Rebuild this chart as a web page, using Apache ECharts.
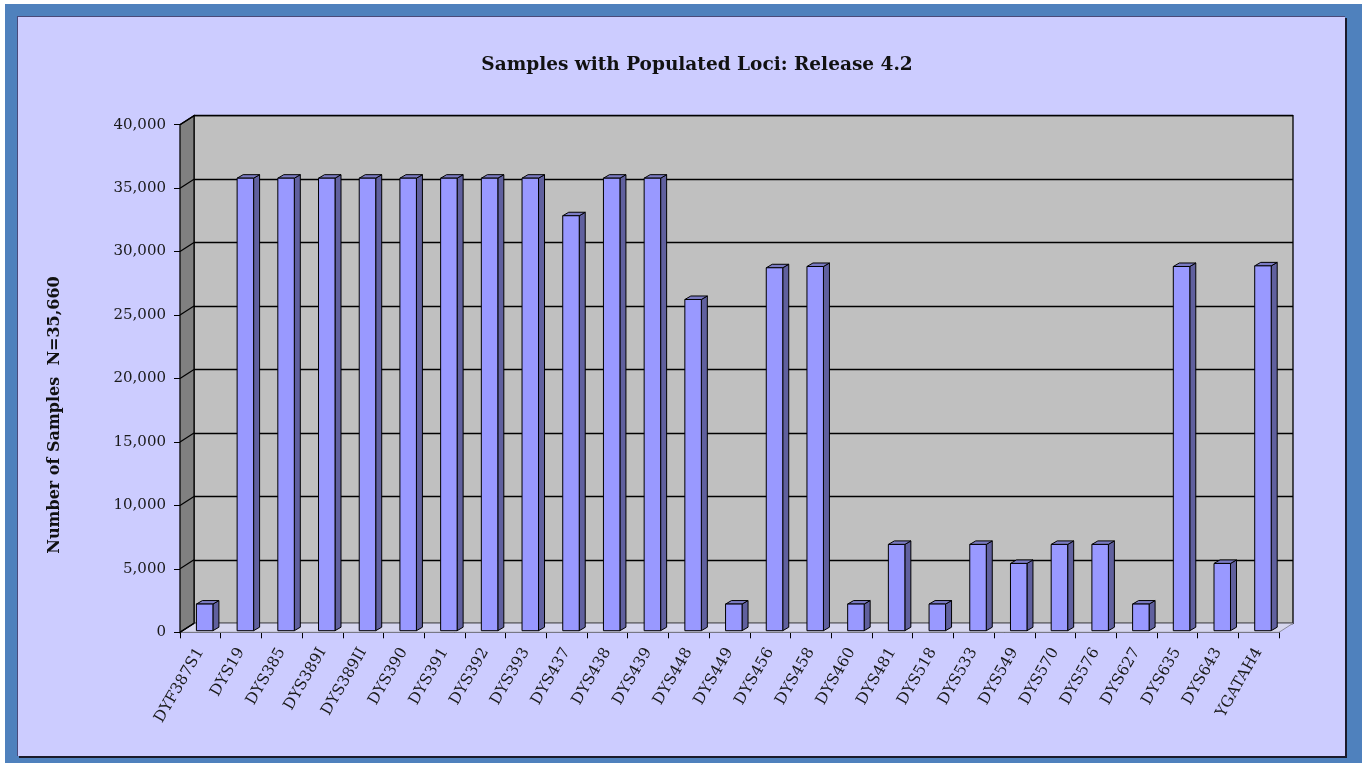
<!DOCTYPE html>
<html>
<head>
<meta charset="utf-8">
<title>Samples with Populated Loci</title>
<script src="https://cdn.jsdelivr.net/npm/echarts@6/dist/echarts.min.js"></script>
<style>
  html, body { margin: 0; padding: 0; background: #ffffff; }
  #frame { position: absolute; left: 5px; top: 4px; width: 1357px; height: 759px; background: #4f81bd; }
  #panel {
    position: absolute; left: 17px; top: 16px; width: 1328px; height: 740px;
    background: #ccccff; border-top: 1px solid #4a4a7a; border-left: 1px solid #4a4a7a;
    box-shadow: 2px 2px 0 #1a1a2a; box-sizing: border-box;
  }
  #chart { position: absolute; left: 0; top: 0; width: 1362px; height: 763px; }
</style>
</head>
<body>
<div id="frame"></div>
<div id="panel"></div>
<div id="chart"></div>
<script>
// 样本数据
const categories = [
  "DYF387S1", "DYS19", "DYS385", "DYS389I", "DYS389II", "DYS390", "DYS391",
  "DYS392", "DYS393", "DYS437", "DYS438", "DYS439", "DYS448", "DYS449",
  "DYS456", "DYS458", "DYS460", "DYS481", "DYS518", "DYS533", "DYS549",
  "DYS570", "DYS576", "DYS627", "DYS635", "DYS643", "YGATAH4"
];
const sampleCounts = [
  2100, 35660, 35660, 35660, 35660, 35660, 35660,
  35660, 35660, 32700, 35660, 35660, 26100, 2100,
  28600, 28700, 2100, 6800, 2100, 6800, 5300,
  6800, 6800, 2100, 28700, 5300, 28750
];
const yMin = 0;
const yMax = 40000;
const yStep = 5000;

// 3D 偏移（样式）
const DEPTH_X = 14, DEPTH_Y = -9;
const BAR_SHIFT_X = 4.3, BAR_SHIFT_Y = -1.6;
const BAR_DEPTH_X = 6, BAR_DEPTH_Y = -3.5;
const FONT = "'DejaVu Serif', 'Liberation Serif', serif";

const chart = echarts.init(document.getElementById("chart"));

function renderWalls(params, api) {
  const n = categories.length;
  const band = api.size([1, 0])[0];
  const xl = api.coord([0, yMin])[0] - band / 2;
  const xr = api.coord([n - 1, yMin])[0] + band / 2;
  const y0 = api.coord([0, yMin])[1];
  const yt = api.coord([0, yMax])[1];
  const children = [];
  // 地板
  children.push({
    type: "polygon",
    shape: { points: [[xl, y0], [xr, y0], [xr + DEPTH_X, y0 + DEPTH_Y], [xl + DEPTH_X, y0 + DEPTH_Y]] },
    style: { fill: "#d6d6ee", stroke: "#8a8a9a", lineWidth: 1 },
  });
  // 左侧墙
  children.push({
    type: "polygon",
    shape: { points: [[xl, y0], [xl, yt], [xl + DEPTH_X, yt + DEPTH_Y], [xl + DEPTH_X, y0 + DEPTH_Y]] },
    style: { fill: "#808080", stroke: "#000", lineWidth: 1.2 },
  });
  for (let v = yMin; v <= yMax; v += yStep) {
    const y = api.coord([0, v])[1];
    children.push({
      type: "line",
      shape: { x1: xl, y1: y, x2: xl + DEPTH_X, y2: y + DEPTH_Y },
      style: { stroke: "#000", lineWidth: 1.2 },
    });
  }
  return { type: "group", children: children };
}

function renderBar(params, api) {
  const idx = api.value(0);
  const top = api.coord([idx, api.value(1)]);
  const base = api.coord([idx, 0]);
  const band = api.size([1, 0])[0];
  const w = band * 0.405;
  const x1 = top[0] + BAR_SHIFT_X - w / 2;
  const x2 = x1 + w;
  const yt = top[1] + BAR_SHIFT_Y;
  const yb = base[1] + BAR_SHIFT_Y;
  const stroke = { stroke: "#000", lineWidth: 1 };
  return {
    type: "group",
    children: [
      {
        type: "polygon",
        shape: { points: [[x2, yb], [x2, yt], [x2 + BAR_DEPTH_X, yt + BAR_DEPTH_Y], [x2 + BAR_DEPTH_X, yb + BAR_DEPTH_Y]] },
        style: Object.assign({ fill: "#60609e" }, stroke),
      },
      {
        type: "polygon",
        shape: { points: [[x1, yt], [x2, yt], [x2 + BAR_DEPTH_X, yt + BAR_DEPTH_Y], [x1 + BAR_DEPTH_X, yt + BAR_DEPTH_Y]] },
        style: Object.assign({ fill: "#7b7bc4" }, stroke),
      },
      {
        type: "rect",
        shape: { x: x1, y: yt, width: w, height: yb - yt },
        style: Object.assign({ fill: "#9999ff" }, stroke),
      },
    ],
  };
}

const option = {
  backgroundColor: "transparent",
  animation: false,
  title: {
    text: "Samples with Populated Loci: Release 4.2",
    left: 692,
    top: 51,
    textAlign: "center",
    textStyle: { fontFamily: FONT, fontWeight: "bold", fontSize: 18.5, color: "#111" },
  },
  graphic: [
    {
      type: "text",
      x: 55,
      y: 415,
      rotation: Math.PI / 2,
      style: {
        text: "Number of Samples  N=35,660",
        font: "bold 16px " + FONT,
        fill: "#111",
        textAlign: "center",
        textVerticalAlign: "middle",
      },
    },
  ],
  grid: [
    { left: 180, right: 83, top: 124.7, bottom: 130.7, outerBoundsMode: "none", containLabel: false },
    {
      left: 180 + DEPTH_X, right: 83 - DEPTH_X, top: 124.7 + DEPTH_Y, bottom: 130.7 - DEPTH_Y,
      outerBoundsMode: "none", containLabel: false,
      show: true, backgroundColor: "#c0c0c0", borderColor: "#000", borderWidth: 1.3,
    },
  ],
  xAxis: [
    {
      type: "category",
      gridIndex: 0,
      data: categories,
      boundaryGap: true,
      axisLine: { lineStyle: { color: "#000", width: 1.2 } },
      axisTick: { show: true, length: 6, lineStyle: { color: "#000" } },
      axisLabel: {
        interval: 0,
        rotate: 60,
        margin: 17,
        fontFamily: FONT,
        fontSize: 15.5,
        color: "#1a1a1a",
      },
    },
    { type: "category", gridIndex: 1, data: categories, show: false },
  ],
  yAxis: [
    {
      type: "value",
      gridIndex: 0,
      min: yMin,
      max: yMax,
      interval: yStep,
      splitLine: { show: false },
      axisLine: { show: true, lineStyle: { color: "#000", width: 1.2 } },
      axisTick: { show: true, length: 6, lineStyle: { color: "#000" } },
      axisLabel: {
        margin: 14,
        fontFamily: FONT,
        fontSize: 15,
        color: "#1a1a1a",
        formatter: (v) => v.toLocaleString("en-US"),
      },
    },
    {
      type: "value",
      gridIndex: 1,
      min: yMin,
      max: yMax,
      interval: yStep,
      axisLine: { show: false },
      axisTick: { show: false },
      axisLabel: { show: false },
      splitLine: { show: true, lineStyle: { color: "#000", width: 1.3 } },
    },
  ],
  series: [
    {
      type: "custom",
      name: "walls",
      xAxisIndex: 0,
      yAxisIndex: 0,
      renderItem: renderWalls,
      data: [[0, 0]],
      silent: true,
      z: 1,
    },
    {
      type: "custom",
      name: "Samples",
      xAxisIndex: 0,
      yAxisIndex: 0,
      renderItem: renderBar,
      encode: { x: 0, y: 1 },
      data: categories.map((c, i) => [i, sampleCounts[i]]),
      z: 3,
    },
  ],
};

chart.setOption(option);
</script>
</body>
</html>
